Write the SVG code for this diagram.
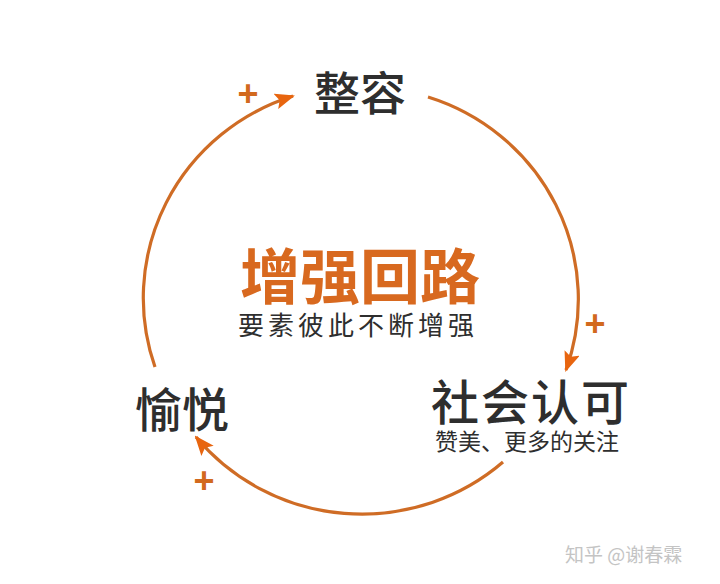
<svg xmlns="http://www.w3.org/2000/svg" width="720" height="584" viewBox="0 0 720 584">
<defs>
<style>
.cjk{font-family:"Noto Sans CJK SC","Noto Sans",sans-serif;text-anchor:middle}
.node{fill:#2e2e2e;font-weight:500}
.title{fill:#D8691F;font-weight:bold}
.sub{fill:#2e2e2e}
.plus{font-family:"Liberation Sans",Arial,sans-serif;font-weight:bold;fill:#D2691E;text-anchor:middle}
.arc{fill:none;stroke:#CF6C25;stroke-width:3.2}
</style>
<marker id="ah" viewBox="0 0 20 16" refX="18" refY="8" markerWidth="20" markerHeight="16" markerUnits="userSpaceOnUse" orient="auto">
<path d="M0,0 L20,8 L0,16 L4,8 Z" fill="#E8650F"/>
</marker>
</defs>
<rect width="720" height="584" fill="#ffffff"/>
<g id="connectors">
<path class="arc" d="M428,97 A215,212 0 0,1 566,370" marker-end="url(#ah)"/>
<path class="arc" d="M503,462 A215,212 0 0,1 196,437" marker-end="url(#ah)"/>
<path class="arc" d="M155,367 A215,212 0 0,1 293,96" marker-end="url(#ah)"/>
<text class="plus" x="248" y="106" font-size="36">+</text>
<text class="plus" x="595" y="336" font-size="36">+</text>
<text class="plus" x="204" y="493" font-size="36">+</text>
</g>
<g id="node-zhengrong">
<text class="cjk node" x="360" y="110" font-size="46">整容</text>
</g>
<g id="node-center">
<text class="cjk title" x="360" y="299" font-size="60">增强回路</text>
<text class="cjk sub" x="358" y="335" font-size="26" letter-spacing="4">要素彼此不断增强</text>
</g>
<g id="node-shehui">
<text class="cjk node" x="531" y="420" font-size="48" letter-spacing="2">社会认可</text>
<text class="cjk sub" x="527" y="450" font-size="23">赞美、更多的关注</text>
</g>
<g id="node-yuyue">
<text class="cjk node" x="182" y="427" font-size="47">愉悦</text>
</g>
<g id="watermark">
<text x="565" y="562" font-size="19" fill="#c4c4c4" font-family="Noto Sans CJK SC,sans-serif">知乎 @谢春霖</text>
</g>
</svg>
